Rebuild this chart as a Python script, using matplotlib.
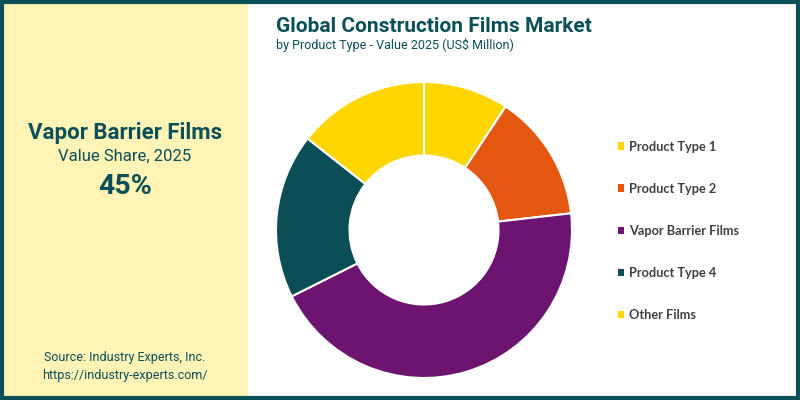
import matplotlib.pyplot as plt
from matplotlib.patches import Rectangle, Patch

# Data
labels = ['Product Type 1', 'Product Type 2', 'Vapor Barrier Films', 'Product Type 4', 'Other Films']
shares = [9.3, 13.9, 44.4, 18.0, 14.4]
colors = ['#FFD600', '#E35710', '#6C1470', '#0B4E55', '#FFD600']

teal = '#0B4F58'
panel_bg = '#FFF3B5'

fig = plt.figure(figsize=(8, 4), dpi=100)
fig.patch.set_facecolor('white')

# left highlight panel
fig.add_artist(Rectangle((0, 0), 248 / 800, 1, transform=fig.transFigure,
                         facecolor=panel_bg, edgecolor='none', zorder=0))
# outer border
fig.add_artist(Rectangle((0.002, 0.004), 0.996, 0.992, transform=fig.transFigure,
                         facecolor='none', edgecolor=teal, linewidth=3, zorder=10))

fig.text(125 / 800, 1 - 133 / 400, 'Vapor Barrier Films', ha='center', va='center',
         fontsize=16, fontweight='bold', color=teal, family='Roboto')
fig.text(125 / 800, 1 - 156 / 400, 'Value Share, 2025', ha='center', va='center',
         fontsize=12, color=teal, family='Roboto')
fig.text(125 / 800, 1 - 187 / 400, '45%', ha='center', va='center',
         fontsize=20.5, fontweight='bold', color=teal, family='Roboto')
fig.text(125 / 800, 1 - 357 / 400, 'Source: Industry Experts, Inc.', ha='center', va='center',
         fontsize=9, color=teal, family='Roboto')
fig.text(125 / 800, 1 - 376 / 400, 'https://industry-experts.com/', ha='center', va='center',
         fontsize=9, color=teal, family='Roboto')

# titles
fig.text(276 / 800, 1 - 26 / 400, 'Global Construction Films Market', ha='left', va='center',
         fontsize=15, fontweight='bold', color=teal, family='Roboto')
fig.text(276 / 800, 1 - 45 / 400, 'by Product Type - Value 2025 (US$ Million)', ha='left', va='center',
         fontsize=9, color=teal, family='Roboto')

# donut
ax = fig.add_axes([(424 - 150) / 800, (400 - 230 - 150) / 400, 300 / 800, 300 / 400])
ax.pie(shares, colors=colors, startangle=90, counterclock=False, radius=148 / 150,
       wedgeprops=dict(width=0.49, edgecolor='white', linewidth=1.5))
ax.set_xlim(-1, 1)
ax.set_ylim(-1, 1)
ax.set_aspect('equal')
ax.axis('off')

handles = [Patch(facecolor=c, edgecolor='none') for c in colors]
leg = fig.legend(handles, labels, loc='upper left', bbox_to_anchor=(606 / 800, 1 - 129 / 400),
                 frameon=False, handlelength=0.5, handleheight=0.5, handletextpad=0.4,
                 labelspacing=2.36, prop={'family': 'Lato', 'weight': 'bold', 'size': 9.2})
for t in leg.get_texts():
    t.set_color('#404040')

fig.savefig('out.png', dpi=100)
